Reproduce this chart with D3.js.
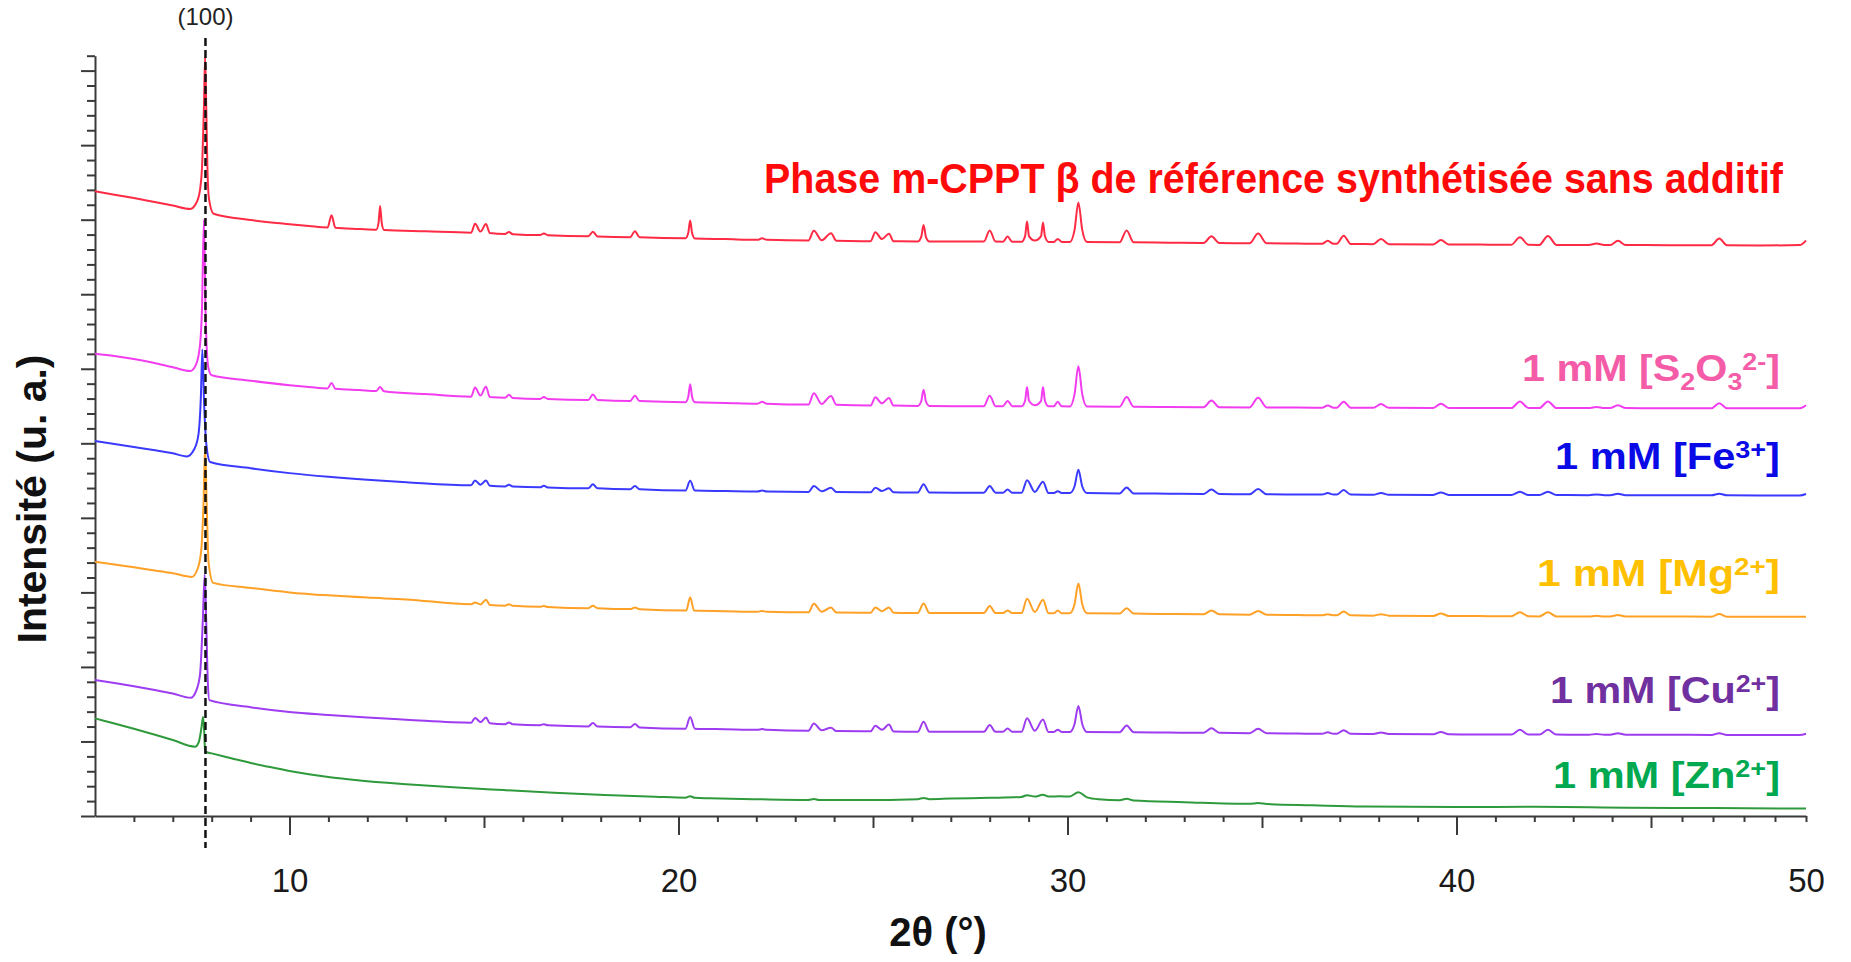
<!DOCTYPE html>
<html><head><meta charset="utf-8">
<script src="https://cdn.jsdelivr.net/npm/d3@7/dist/d3.min.js"></script>
<style>html,body{margin:0;padding:0;background:#fff;} svg{display:block;}</style>
</head><body>
<svg id="chart" width="1851" height="962"></svg>
<script>
// ---------------- DATA ----------------
const xTickLabels = [10, 20, 30, 40, 50];
const peak100Position = 7.84;
const peak100Label = "(100)";
const xAxisTitle = "2θ (°)";
const yAxisTitle = "Intensité (u. a.)";

// 2θ (°), intensity (u. a., stacked offsets as drawn)
const refPhase = [
 [5.0,41.90],[5.5,41.68],[6.0,41.45],[6.5,41.2],[7.0,40.95],[7.45,40.72],
 [7.6,41.1],[7.7,42.0],[7.76,44.0],[7.8,47.5],[7.83,50.9],[7.86,47.5],[7.89,43.5],[7.93,41.4],[8.05,40.4],
 [9.0,39.98],[10.0,39.7],[10.5,39.58],
 [10.98,39.48],[11.08,40.3],[11.18,39.46],
 [11.8,39.38],
 [12.23,39.33],[12.29,39.8],[12.33,40.92],[12.37,39.8],[12.43,39.31],
 [13.5,39.22],
 [14.67,39.13],[14.77,39.72],[14.91,39.2],[15.05,39.71],[15.15,39.1],
 [15.54,39.04],[15.64,39.17],[15.74,39.03],
 [16.44,38.97],[16.54,39.08],[16.64,38.96],
 [17.68,38.89],[17.8,39.19],[17.92,38.88],
 [18.76,38.83],[18.88,39.23],[19.0,38.82],
 [20.18,38.75],[20.25,39.1],[20.3,39.95],[20.35,39.1],[20.42,38.74],
 [21.2,38.7],
 [22.03,38.65],[22.15,38.75],[22.27,38.65],
 [23.34,38.6],[23.48,39.25],[23.68,38.62],[23.92,39.09],[24.06,38.58],
 [24.94,38.56],[25.06,39.16],[25.23,38.7],[25.41,39.06],[25.53,38.55],
 [26.15,38.54],[26.24,38.85],[26.3,39.64],[26.36,38.85],[26.45,38.54],
 [27.2,38.53],
 [27.85,38.53],[28.0,39.28],[28.15,38.53],
 [28.34,38.52],[28.46,38.87],[28.58,38.52],
 [28.82,38.52],[28.91,38.9],[28.96,39.87],[29.01,38.9],[29.16,38.6],
 [29.32,38.9],[29.37,39.81],[29.42,38.9],[29.51,38.51],
 [29.65,38.51],[29.75,38.71],[29.85,38.51],
 [30.06,38.5],[30.18,39.3],[30.28,41.15],[30.38,39.3],[30.5,38.5],
 [31.34,38.48],[31.52,39.28],[31.7,38.48],
 [32.6,38.46],
 [33.5,38.44],[33.7,38.89],[33.9,38.44],
 [34.68,38.42],[34.9,39.07],[35.12,38.42],
 [35.9,38.4],
 [36.54,38.38],[36.69,38.58],[36.84,38.38],
 [36.92,38.38],[37.1,38.93],[37.28,38.37],
 [37.86,38.36],[38.06,38.71],[38.26,38.36],
 [39.4,38.34],[39.6,38.64],[39.8,38.34],
 [40.6,38.33],
 [41.41,38.32],[41.63,38.82],[41.85,38.32],
 [42.13,38.31],[42.35,38.91],[42.57,38.31],
 [43.4,38.3],[43.6,38.4],[43.8,38.3],
 [43.95,38.3],[44.15,38.58],[44.35,38.3],
 [45.6,38.29],
 [46.95,38.28],[47.2,38.73],[47.45,38.28],
 [48.5,38.27],[49.8,38.3],[50.0,38.6]
];

const s2o3 = [
 [5.0,31.0],[5.5,30.85],[6.0,30.65],[6.5,30.4],[7.0,30.1],[7.45,29.85],
 [7.6,30.3],[7.7,31.6],[7.75,34.0],[7.8,40.0],[7.84,34.0],[7.88,31.0],[7.92,30.0],[8.0,29.56],
 [9.0,29.2],[10.0,28.9],[10.5,28.78],
 [10.98,28.68],[11.08,29.05],[11.18,28.66],
 [11.8,28.57],
 [12.23,28.51],[12.33,28.78],[12.43,28.49],
 [13.5,28.3],
 [14.67,28.13],[14.77,28.74],[14.91,28.2],[15.05,28.8],[15.15,28.1],
 [15.54,28.05],[15.64,28.25],[15.74,28.04],
 [16.44,27.98],[16.54,28.1],[16.64,27.97],
 [17.68,27.9],[17.8,28.28],[17.92,27.9],
 [18.76,27.84],[18.88,28.19],[19.0,27.83],
 [20.18,27.76],[20.25,28.1],[20.3,28.96],[20.35,28.1],[20.42,27.75],
 [21.2,27.71],
 [22.03,27.66],[22.15,27.78],[22.27,27.66],
 [23.34,27.6],[23.48,28.35],[23.68,27.64],[23.92,28.18],[24.06,27.58],
 [24.94,27.54],[25.06,28.09],[25.23,27.68],[25.41,28.04],[25.53,27.53],
 [26.15,27.5],[26.24,27.82],[26.3,28.6],[26.36,27.82],[26.45,27.5],
 [27.2,27.49],
 [27.85,27.49],[28.0,28.19],[28.15,27.49],
 [28.34,27.49],[28.46,27.84],[28.58,27.49],
 [28.82,27.48],[28.91,27.85],[28.96,28.78],[29.01,27.85],[29.16,27.55],
 [29.32,27.85],[29.37,28.78],[29.42,27.85],[29.51,27.48],
 [29.65,27.48],[29.75,27.78],[29.85,27.48],
 [30.06,27.47],[30.18,28.28],[30.28,30.17],[30.38,28.28],[30.5,27.47],
 [31.34,27.45],[31.52,28.1],[31.7,27.45],
 [32.6,27.43],
 [33.5,27.42],[33.7,27.87],[33.9,27.42],
 [34.68,27.41],[34.9,28.06],[35.12,27.41],
 [35.9,27.4],
 [36.54,27.39],[36.69,27.54],[36.84,27.39],
 [36.92,27.39],[37.1,27.79],[37.28,27.39],
 [37.86,27.38],[38.06,27.63],[38.26,27.38],
 [39.4,27.37],[39.6,27.66],[39.8,27.37],
 [40.6,27.37],
 [41.41,27.36],[41.63,27.81],[41.85,27.36],
 [42.13,27.36],[42.35,27.81],[42.57,27.36],
 [43.4,27.36],[43.6,27.44],[43.8,27.36],
 [43.95,27.36],[44.15,27.56],[44.35,27.36],
 [45.6,27.35],
 [46.95,27.35],[47.2,27.68],[47.45,27.35],
 [48.5,27.35],[49.8,27.35],[50.0,27.55]
];

const fe3 = [
 [5.0,25.15],[5.5,24.95],[6.0,24.75],[6.5,24.55],[7.0,24.33],[7.36,24.12],
 [7.55,24.6],[7.66,25.6],[7.72,28.0],[7.76,31.3],[7.8,28.0],[7.86,25.0],[7.96,23.75],
 [9.0,23.33],[10.0,23.0],[11.0,22.75],[12.0,22.55],[13.0,22.39],
 [14.67,22.19],[14.77,22.51],[14.91,22.22],[15.05,22.5],[15.15,22.16],
 [15.54,22.11],[15.64,22.22],[15.74,22.1],
 [16.44,22.05],[16.54,22.15],[16.64,22.04],
 [17.68,21.98],[17.8,22.25],[17.92,21.98],
 [18.76,21.92],[18.88,22.14],[19.0,21.91],
 [20.18,21.83],[20.3,22.48],[20.42,21.83],
 [21.2,21.8],
 [22.03,21.77],[22.15,21.84],[22.27,21.77],
 [23.34,21.74],[23.48,22.14],[23.68,21.78],[23.92,22.02],[24.06,21.73],
 [24.94,21.71],[25.06,22.02],[25.23,21.8],[25.41,21.98],[25.53,21.71],
 [26.15,21.7],[26.3,22.26],[26.45,21.7],
 [27.2,21.69],
 [27.85,21.69],[28.0,22.14],[28.15,21.69],
 [28.34,21.68],[28.46,21.9],[28.58,21.68],
 [28.82,21.68],[28.96,22.53],[29.16,21.74],[29.37,22.42],[29.51,21.67],
 [29.65,21.67],[29.75,21.79],[29.85,21.67],
 [30.06,21.66],[30.18,22.1],[30.28,23.22],[30.38,22.1],[30.5,21.66],
 [31.34,21.64],[31.52,22.04],[31.7,21.64],
 [32.6,21.62],
 [33.5,21.6],[33.7,21.9],[33.9,21.6],
 [34.68,21.58],[34.9,21.93],[35.12,21.58],
 [35.9,21.57],
 [36.54,21.56],[36.69,21.66],[36.84,21.56],
 [36.92,21.56],[37.1,21.86],[37.28,21.56],
 [37.86,21.55],[38.06,21.67],[38.26,21.55],
 [39.4,21.54],[39.6,21.7],[39.8,21.54],
 [40.6,21.54],
 [41.41,21.53],[41.63,21.75],[41.85,21.53],
 [42.13,21.53],[42.35,21.75],[42.57,21.53],
 [43.4,21.52],[43.6,21.57],[43.8,21.52],
 [43.95,21.52],[44.15,21.62],[44.35,21.52],
 [45.6,21.52],
 [46.95,21.51],[47.2,21.62],[47.45,21.51],
 [48.5,21.5],[49.8,21.5],[50.0,21.6]
];

const mg2 = [
 [5.0,17.05],[5.5,16.87],[6.0,16.68],[6.5,16.48],[7.0,16.28],[7.49,16.04],
 [7.64,16.6],[7.73,17.8],[7.79,21.0],[7.83,24.7],[7.87,21.0],[7.92,17.0],[8.04,15.64],
 [9.0,15.3],[10.0,15.0],[11.0,14.8],[12.0,14.65],[13.0,14.53],
 [14.67,14.21],[14.77,14.32],[14.91,14.19],[15.05,14.51],[15.15,14.16],
 [15.54,14.11],[15.64,14.21],[15.74,14.1],
 [16.44,14.03],[16.54,14.09],[16.64,14.02],
 [17.68,13.94],[17.8,14.1],[17.92,13.94],
 [18.76,13.88],[18.88,13.98],[19.0,13.87],
 [20.2,13.78],[20.3,14.68],[20.4,13.78],
 [21.2,13.74],
 [22.03,13.7],[22.15,13.75],[22.27,13.7],
 [23.34,13.66],[23.48,14.24],[23.68,13.7],[23.92,13.98],[24.06,13.65],
 [24.94,13.63],[25.06,13.99],[25.23,13.74],[25.41,13.99],[25.53,13.63],
 [26.15,13.62],[26.3,14.25],[26.45,13.62],
 [27.2,13.61],
 [27.85,13.61],[28.0,14.08],[28.15,13.61],
 [28.34,13.61],[28.46,13.79],[28.58,13.61],
 [28.82,13.61],[28.96,14.57],[29.16,13.68],[29.37,14.51],[29.51,13.6],
 [29.65,13.6],[29.75,13.78],[29.85,13.6],
 [30.06,13.6],[30.18,14.2],[30.28,15.6],[30.38,14.2],[30.5,13.6],
 [31.34,13.58],[31.52,13.93],[31.7,13.58],
 [32.6,13.55],
 [33.5,13.53],[33.7,13.78],[33.9,13.53],
 [34.68,13.5],[34.9,13.75],[35.12,13.5],
 [35.9,13.48],
 [36.54,13.46],[36.69,13.54],[36.84,13.46],
 [36.92,13.46],[37.1,13.71],[37.28,13.46],
 [37.86,13.44],[38.06,13.54],[38.26,13.44],
 [39.4,13.42],[39.6,13.58],[39.8,13.42],
 [40.6,13.41],
 [41.41,13.4],[41.63,13.67],[41.85,13.4],
 [42.13,13.39],[42.35,13.66],[42.57,13.39],
 [43.4,13.38],[43.6,13.43],[43.8,13.38],
 [43.95,13.38],[44.15,13.48],[44.35,13.38],
 [45.6,13.38],
 [46.95,13.37],[47.2,13.55],[47.45,13.37],
 [48.5,13.37],[50.0,13.36]
];

const cu2 = [
 [5.0,9.12],[5.5,8.92],[6.0,8.7],[6.5,8.47],[7.0,8.22],[7.46,7.93],
 [7.6,8.4],[7.7,9.5],[7.77,13.0],[7.82,16.2],[7.86,13.0],[7.9,9.0],[7.94,7.77],
 [9.0,7.3],[10.0,6.98],[11.0,6.78],[12.0,6.6],[13.0,6.46],
 [14.67,6.26],[14.77,6.58],[14.91,6.3],[15.05,6.61],[15.15,6.22],
 [15.54,6.16],[15.64,6.27],[15.74,6.15],
 [16.44,6.09],[16.54,6.16],[16.64,6.08],
 [17.68,6.01],[17.8,6.23],[17.92,6.0],
 [18.76,5.95],[18.88,6.17],[19.0,5.94],
 [20.18,5.86],[20.3,6.64],[20.42,5.86],
 [21.2,5.82],
 [22.03,5.78],[22.15,5.83],[22.27,5.78],
 [23.34,5.72],[23.48,6.21],[23.68,5.75],[23.92,5.92],[24.06,5.7],
 [24.94,5.68],[25.06,6.06],[25.23,5.78],[25.41,6.13],[25.53,5.67],
 [26.15,5.65],[26.3,6.32],[26.45,5.65],
 [27.2,5.65],
 [27.85,5.65],[28.0,6.1],[28.15,5.65],
 [28.34,5.65],[28.46,5.87],[28.58,5.65],
 [28.82,5.65],[28.96,6.55],[29.16,5.72],[29.37,6.48],[29.51,5.64],
 [29.65,5.64],[29.75,5.79],[29.85,5.64],
 [30.06,5.64],[30.18,6.16],[30.28,7.38],[30.38,6.16],[30.5,5.64],
 [31.34,5.62],[31.52,6.07],[31.7,5.62],
 [32.6,5.6],
 [33.5,5.58],[33.7,5.88],[33.9,5.58],
 [34.68,5.55],[34.9,5.85],[35.12,5.55],
 [35.9,5.53],
 [36.54,5.51],[36.69,5.61],[36.84,5.51],
 [36.92,5.51],[37.1,5.76],[37.28,5.51],
 [37.86,5.5],[38.06,5.6],[38.26,5.5],
 [39.4,5.48],[39.6,5.64],[39.8,5.48],
 [40.6,5.47],
 [41.41,5.46],[41.63,5.79],[41.85,5.46],
 [42.13,5.46],[42.35,5.79],[42.57,5.46],
 [43.4,5.45],[43.6,5.5],[43.8,5.45],
 [43.95,5.45],[44.15,5.55],[44.35,5.45],
 [45.6,5.45],
 [46.95,5.44],[47.2,5.55],[47.45,5.44],
 [48.5,5.44],[49.8,5.43],[50.0,5.52]
];

const zn2 = [
 [5.0,6.55],[5.5,6.2],[6.0,5.85],[6.5,5.48],[7.0,5.1],[7.57,4.65],
 [7.67,4.98],[7.73,5.8],[7.78,6.66],[7.81,5.5],[7.83,4.31],
 [8.0,4.2],[8.5,3.88],[9.0,3.56],[9.5,3.28],[10.0,3.02],[10.5,2.8],[11.0,2.61],[11.5,2.46],[12.0,2.33],[12.9,2.15],
 [14.2,1.93],[15.5,1.74],[16.8,1.56],[18.1,1.41],[19.4,1.29],
 [20.18,1.23],[20.3,1.33],[20.42,1.22],
 [20.8,1.19],[22.1,1.12],
 [23.34,1.08],[23.48,1.14],[23.62,1.07],
 [24.7,1.07],
 [26.15,1.13],[26.3,1.21],[26.45,1.13],
 [27.0,1.17],[28.0,1.22],
 [28.82,1.28],[28.96,1.4],[29.16,1.3],[29.37,1.42],[29.51,1.31],
 [29.8,1.32],
 [30.06,1.31],[30.28,1.6],[30.5,1.25],
 [30.8,1.12],
 [31.34,1.06],[31.52,1.16],[31.7,1.04],
 [33.0,0.93],
 [34.68,0.82],[34.9,0.87],[35.12,0.8],
 [36.3,0.72],[37.6,0.64],[40.0,0.6],[42.0,0.62],[44.4,0.56],[47.0,0.53],[50.0,0.5]
];

const seriesData = [refPhase, s2o3, fe3, mg2, cu2, zn2];

// label parts: [text, kind]  kind: "" normal, "sub", "sup"
const titleLabel = [["Phase m-CPPT β de référence synthétisée sans additif", ""]];
const s2o3Label = [["1 mM [S",""],["2","sub"],["O",""],["3","sub"],["2-","sup"],["]",""]];
const fe3Label  = [["1 mM [Fe",""],["3+","sup"],["]",""]];
const mg2Label  = [["1 mM [Mg",""],["2+","sup"],["]",""]];
const cu2Label  = [["1 mM [Cu",""],["2+","sup"],["]",""]];
const zn2Label  = [["1 mM [Zn",""],["2+","sup"],["]",""]];
const seriesLabels = [titleLabel, s2o3Label, fe3Label, mg2Label, cu2Label, zn2Label];

// ---------------- STYLE / LAYOUT ----------------
const lineColors  = ["#ff2b45", "#f23cf0", "#3a3aff", "#ffa126", "#9d3cf0", "#2f9a3c"];
const labelColors = ["#ff0a0a", "#f45ca8", "#0a0ae6", "#ffc000", "#7030a0", "#00a850"];
const labelLayout = [
  {x: 1783, y: 193, size: 42, width: 1019},
  {x: 1780, y: 381, size: 36, width: 258},
  {x: 1780, y: 469, size: 36, width: 225},
  {x: 1780, y: 586, size: 36, width: 243},
  {x: 1780, y: 703, size: 36, width: 230},
  {x: 1780, y: 788, size: 36, width: 227}
];
const FONT = "'Liberation Sans Narrow', 'Liberation Sans', Arial, sans-serif";

const svg = d3.select("#chart");
const x = d3.scaleLinear().domain([5, 45, 50]).range([95, 1651, 1806]);
const y = d3.scaleLinear().domain([0, 51]).range([816, 55.7]);

// ---- Y axis (ticks only) ----
const yAxis = d3.axisLeft(y).tickValues(d3.range(0, 52)).tickFormat("").tickSizeOuter(0);
const gy = svg.append("g").attr("transform", "translate(95,0)").call(yAxis);
gy.select(".domain").attr("stroke", "#3a3a3a").attr("stroke-width", 2);
gy.selectAll(".tick line").attr("stroke", "#3a3a3a").attr("stroke-width", 2)
  .attr("x2", d => d % 5 === 0 ? -14 : -8);

// ---- X axis ----
const xAxis = d3.axisBottom(x).tickValues(d3.range(6, 51)).tickFormat("").tickSizeOuter(0);
const gx = svg.append("g").attr("transform", "translate(0,816)").call(xAxis);
gx.select(".domain").attr("stroke", "#3a3a3a").attr("stroke-width", 2);
gx.selectAll(".tick line").attr("stroke", "#3a3a3a").attr("stroke-width", 2)
  .attr("y2", d => (d % 10 === 0 && d < 50) ? 19 : (d % 5 === 0 && d < 50 ? 12 : 6));

const xLab = d3.axisBottom(x).tickValues(xTickLabels).tickFormat(d3.format("d")).tickSize(0).tickSizeOuter(0);
const gxl = svg.append("g").attr("transform", "translate(0,816)").call(xLab);
gxl.select(".domain").remove();
gxl.selectAll("text").attr("dy", null).attr("y", 76)
  .attr("font-family", "'Liberation Sans', Arial, sans-serif").attr("font-size", 33).attr("fill", "#1a1a1a");

// ---- curves ----
const line = d3.line().x(d => x(d[0])).y(d => y(d[1])).curve(d3.curveMonotoneX);
svg.append("g").selectAll("path").data(seriesData).join("path")
  .attr("d", line).attr("fill", "none")
  .attr("stroke", (d, i) => lineColors[i]).attr("stroke-width", 2)
  .attr("stroke-linejoin", "round");

// ---- dashed (100) line ----
svg.append("line").attr("x1", x(peak100Position)).attr("x2", x(peak100Position))
  .attr("y1", 38).attr("y2", 848)
  .attr("stroke", "#111").attr("stroke-width", 2.5).attr("stroke-dasharray", "8,4");
svg.append("text").attr("x", x(peak100Position)).attr("y", 25)
  .attr("text-anchor", "middle").attr("font-family", "'Liberation Sans', Arial, sans-serif")
  .attr("font-size", 24).attr("fill", "#222").text(peak100Label);

// ---- series labels ----
seriesLabels.forEach((parts, i) => {
  const L = labelLayout[i];
  const t = svg.append("text").attr("x", L.x).attr("y", L.y)
    .attr("text-anchor", "end").attr("font-family", FONT).attr("font-weight", "bold")
    .attr("font-size", L.size).attr("fill", labelColors[i]);
  let shift = 0;
  parts.forEach(([txt, kind]) => {
    const target = kind === "sub" ? 9 : (kind === "sup" ? -11 : 0);
    const s = t.append("tspan").attr("dy", target - shift).text(txt);
    if (kind) s.attr("font-size", L.size * 0.65);
    shift = target;
  });
  t.attr("textLength", L.width).attr("lengthAdjust", "spacingAndGlyphs");
});

// ---- axis titles ----
svg.append("text").attr("x", 938).attr("y", 946).attr("text-anchor", "middle")
  .attr("font-family", "'Liberation Sans', Arial, sans-serif").attr("font-weight", "bold")
  .attr("font-size", 40).attr("fill", "#111").text(xAxisTitle);
svg.append("text").attr("transform", "translate(46,499) rotate(-90)").attr("text-anchor", "middle")
  .attr("font-family", "'Liberation Sans', Arial, sans-serif").attr("font-weight", "bold")
  .attr("font-size", 41).attr("fill", "#111").attr("textLength", 289).attr("lengthAdjust", "spacingAndGlyphs")
  .text(yAxisTitle);
</script>
</body></html>
